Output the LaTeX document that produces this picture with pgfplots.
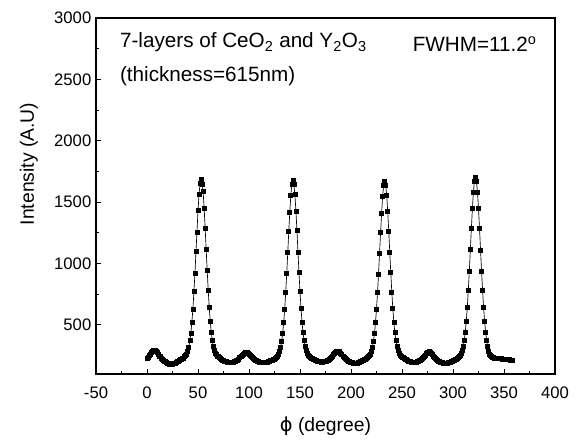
\documentclass[border=0pt]{standalone}
\usepackage{fontspec}
\setmainfont{Liberation Sans}
\newfontfamily\dejavu{DejaVu Sans}
\usepackage{pgfplots}
\pgfplotsset{compat=1.18}
\usetikzlibrary{calc}

\pgfplotstableread{
x y
0 229
1 238
2 250
3 262
4 274
5 284
6 291
7 295
8 296
9 284
10 276
11 259
12 248
13 241
14 229
15 221
16 214
17 206
18 201
19 196
20 190
21 186
22 182
23 180
24 177
25 179
26 183
27 186
28 190
29 196
30 201
31 207
32 212
33 216
34 221
35 226
36 231
37 240
38 252
39 264
40 286
41 320
42 372
43 430
44 524
45 628
46 772
47 918
48 1096
49 1258
50 1430
51 1560
52 1652
53 1683
54 1648
55 1590
56 1452
57 1290
58 1118
59 944
60 785
61 644
62 527
63 440
64 375
65 326
66 292
67 270
68 258
69 247
70 240
71 233
72 226
73 220
74 214
75 209
76 206
77 203
78 201
79 199
80 198
81 197
82 196
83 197
84 196
85 198
86 200
87 204
88 209
89 215
90 223
91 232
92 242
93 252
94 261
95 268
96 273
97 276
98 276
99 272
100 264
101 254
102 244
103 236
104 228
105 221
106 215
107 210
108 205
109 201
110 198
111 196
112 194
113 193
114 192
115 193
116 194
117 196
118 199
119 202
120 206
121 209
122 212
123 215
124 218
125 222
126 227
127 235
128 246
129 262
130 284
131 318
132 366
133 430
134 518
135 630
136 765
137 920
138 1090
139 1262
140 1420
141 1555
142 1642
143 1678
144 1645
145 1560
146 1428
147 1268
148 1095
149 926
150 770
151 634
152 522
153 436
154 372
155 325
156 291
157 269
158 256
159 246
160 238
161 231
162 226
163 221
164 216
165 212
166 208
167 205
168 203
169 201
170 200
171 199
172 199
173 200
174 201
175 203
176 206
177 210
178 215
179 221
180 229
181 238
182 248
183 258
184 267
185 275
186 281
187 285
188 286
189 281
190 270
191 258
192 247
193 237
194 228
195 220
196 213
197 207
198 202
199 198
200 194
201 191
202 189
203 188
204 187
205 188
206 190
207 193
208 197
209 201
210 205
211 209
212 213
213 217
214 221
215 226
216 232
217 240
218 250
219 264
220 286
221 320
222 367
223 430
224 517
225 628
226 762
227 915
228 1083
229 1252
230 1410
231 1545
232 1635
233 1668
234 1640
235 1556
236 1425
237 1266
238 1094
239 925
240 769
241 634
242 523
243 436
244 372
245 325
246 291
247 269
248 256
249 246
250 238
251 232
252 226
253 221
254 216
255 211
256 207
257 204
258 201
259 199
260 198
261 197
262 197
263 198
264 199
265 201
266 204
267 208
268 213
269 219
270 227
271 236
272 246
273 256
274 265
275 273
276 279
277 283
278 279
279 269
280 257
281 246
282 236
283 227
284 219
285 212
286 206
287 201
288 197
289 194
290 192
291 190
292 189
293 189
294 190
295 192
296 195
297 198
298 202
299 206
300 210
301 214
302 218
303 222
304 227
305 233
306 241
307 252
308 267
309 290
310 326
311 375
312 441
313 530
314 644
315 782
316 940
317 1112
318 1285
319 1446
320 1582
321 1672
322 1698
323 1668
324 1580
325 1446
326 1285
327 1110
328 938
329 780
330 642
331 530
332 441
333 376
334 322
335 282
336 262
337 250
338 242
339 237
340 233
341 231
342 230
343 229
344 229
345 228
346 227
347 225
348 223
349 221
350 220
351 219
352 218
353 217
354 216
355 216
356 215
357 215
358 214
}\phidata

\begin{document}
\begin{tikzpicture}
\begin{axis}[
  scale only axis,
  width=344.25pt,
  height=267pt,
  xmin=-50, xmax=400,
  ymin=100, ymax=3000,
  xtick={-50,0,...,400},
  ytick={500,1000,...,3000},
  minor x tick num=1,
  minor y tick num=1,
  xtick pos=bottom,
  ytick pos=left,
  tick align=inside,
  major tick length=3.5pt,
  minor tick length=2.2pt,
  axis line style={line width=0.9pt},
  every tick/.style={black, line width=0.6pt},
  /pgf/number format/assume math mode=true,
  /pgf/number format/1000 sep={},
  tick label style={font=\fontsize{12.5}{14}\selectfont},
  xticklabel style={yshift=-6pt},
  xlabel={{\dejavu ϕ} (degree)},
  ylabel={Intensity (A.U)},
  label style={font=\fontsize{14.5}{17}\selectfont},
  xlabel style={at={(axis description cs:0.5,-0.146)}, anchor=center},
  ylabel style={at={(axis description cs:-0.146,0.59)}, anchor=center, rotate=0},
]
\addplot[black, line width=0.5pt, mark=square*, mark size=1.5pt,
  mark options={solid, fill=black}] table[x=x, y=y] {\phidata};
\node[anchor=base west, font=\fontsize{15.5}{18}\selectfont] at (axis cs:-31,2756)
  {7-layers of CeO\textsubscript{2} and Y\textsubscript{2}O\textsubscript{3}};
\node[anchor=base west, font=\fontsize{15.5}{18}\selectfont] at (axis cs:-31,2479)
  {(thickness=615nm)};
\node[anchor=base west, font=\fontsize{15.5}{18}\selectfont] at (axis cs:256,2730)
  {FWHM=11.2\textsuperscript{o}};
\end{axis}
\pgfresetboundingbox
\path ($(current axis.south west)+(-72pt,-48.75pt)$) rectangle ($(current axis.north east)+(21.75pt,13.5pt)$);
\end{tikzpicture}
\end{document}
